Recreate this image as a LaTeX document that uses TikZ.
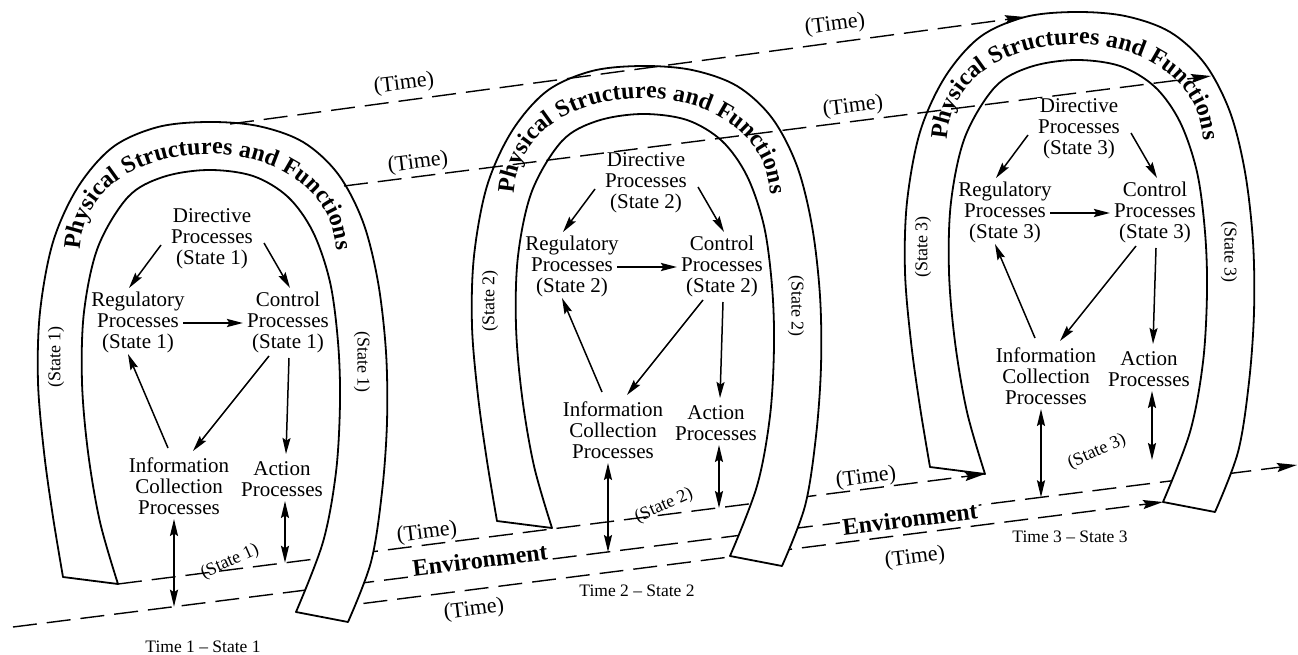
\documentclass[tikz,border=0pt]{standalone}
\usepackage{fontspec}
\setmainfont{Liberation Serif}
\usetikzlibrary{arrows.meta,calc,decorations.text}
\pgfdeclarelayer{back}
\pgfsetlayers{back,main}

\tikzset{
  archline/.style={line width=1.8pt, fill=white, line join=round},
  dashedtime/.style={line width=1.4pt, dash pattern=on 24pt off 10pt},
  timearrow/.style={dashedtime, -{Stealth[length=20pt,width=9pt,inset=3pt]}},
  proc/.style={align=center, font=\fontsize{21}{21}\selectfont, inner sep=1pt},
  parr/.style={line width=1.5pt, -{Stealth[length=16pt,width=8pt,inset=2.5pt]}},
  boldarr/.style={line width=2.6pt, -{Stealth[length=16pt,width=8pt,inset=2.5pt]}},
  darr/.style={line width=1.8pt, {Stealth[length=17pt,width=8pt,inset=2.5pt]}-{Stealth[length=17pt,width=8pt,inset=2.5pt]}},
  timelbl/.style={font=\fontsize{22}{22}\selectfont, rotate=7, inner sep=1pt},
  envlbl/.style={font=\bfseries\fontsize{24}{24}\selectfont, rotate=7, fill=white, inner sep=2pt},
  statelbl/.style={font=\fontsize{18}{18}\selectfont, inner sep=1pt},
  timecap/.style={font=\fontsize{17.5}{17.5}\selectfont},
}

% horseshoe band with its curved title; #1 name prefix, (#2,#3) apex of the outer edge
\newcommand\archbody[3]{%
  \begin{scope}[shift={(#2,#3)}]
    \draw[archline]
      plot[smooth,tension=0.55] coordinates {(-145,455) (-155,395) (-164,330) (-170,260) (-168,190) (-155,120) (-130,65) (-95,25) (-50,5) (0,0) (50,4) (95,20) (130,52) (155,100) (170,160) (178,230) (179,300) (174,370) (163,440) (140,500)}
      -- plot[smooth,tension=0.55] coordinates {(88,490) (115,420) (128,350) (132,280) (130,220) (122,160) (105,110) (80,75) (45,54) (0,48) (-45,55) (-80,75) (-110,125) (-124,190) (-126,260) (-120,330) (-108,400) (-90,462)}
      -- cycle;
    \path[decorate,decoration={text along path,text align=fit to path,
        text={|\bfseries\fontsize{24}{24}\selectfont|Physical Structures and Functions}}]
      (-128,128) .. controls (-122,0) and (122,0) .. (128,128);
    \coordinate (#1li) at (-90,462);
    \coordinate (#1ri) at (88,490);
    \coordinate (#1ta) at (22,2);
    \coordinate (#1tl) at (-50,5);
    \coordinate (#1tb) at (136,64);
  \end{scope}}

% process nodes and their arrows; #4 is the state number
\newcommand\archprocs[4]{%
  \begin{scope}[shift={(#2,#3)}]
    \node[proc,fill=white] (#1d) at (4,117) {Directive\\Processes\\(State #4)};
    \node[proc] (#1r) at (-70,200) {Regulatory\\Processes\\(State #4)};
    \node[proc] (#1c) at (80,200) {Control\\Processes\\(State #4)};
    \node[proc] (#1i) at (-29,364) {Information\\Collection\\Processes};
    \node[proc] (#1a) at (74,357) {Action\\Processes};
    \node[statelbl,rotate=90] (#1sl) at (-152,235) {(State #4)};
    \node[statelbl,rotate=-90] (#1sr) at (154,240) {(State #4)};
    \node[statelbl,rotate=24] (#1sd) at (22,440) {(State #4)};
    \node[timecap] (#1tc) at (-5,525) {Time #4 \textendash{} State #4};
  \end{scope}
  \draw[parr] ($(#1d)+(-51,6)$) -- ($(#1r)+(-9,-34)$);
  \draw[parr] ($(#1d)+(52,4)$) -- ($(#1c)+(2,-34)$);
  \draw[boldarr] ($(#1r)+(45,1)$) -- ($(#1c)+(-45,1)$);
  \draw[parr] ($(#1i)+(-11,-38)$) -- ($(#1r)+(-10,32)$);
  \draw[parr] ($(#1c)+(-19,34)$) -- ($(#1i)+(14,-35)$);
  \draw[parr] ($(#1c)+(1,36)$) -- ($(#1a)+(4,-25)$);
}

\begin{document}
\begin{tikzpicture}[x=1pt,y=-1pt]
\useasboundingbox (0,0) rectangle (1298,655);

\archbody{a1}{208}{122}
\archbody{a2}{642}{66}
\archbody{a3}{1075}{12}

% time lines running over the tops of the arches
\draw[timearrow] (a1ta) -- (a3tl);
\draw[timearrow] (a1tb) -- (a3tb);

% environment lines, passing behind the legs
\coordinate (mstart) at (13,627);
\coordinate (mend) at (1297,465);
\begin{pgfonlayer}{back}
  \draw[timearrow] (mstart) -- (mend);
  \draw[timearrow] (a1li) -- (a3li);
  \draw[timearrow] (a1ri) -- (a3ri);
\end{pgfonlayer}

\archprocs{a1}{208}{122}{1}
\archprocs{a2}{642}{66}{2}
\archprocs{a3}{1075}{12}{3}

% links between the processes and the environment
\coordinate (a1ie) at (174,606.7);
\coordinate (a1ae) at (285,562.8);
\coordinate (a2ie) at (608,552);
\coordinate (a2ae) at (719,508);
\coordinate (a3ie) at (1041,497.3);
\coordinate (a3ae) at (1152,460);
\draw[darr] ($(a1i)+(-5,33)$) -- (a1ie);
\draw[darr] ($(a1a)+(3,22)$) -- (a1ae);
\draw[darr] ($(a2i)+(-5,33)$) -- (a2ie);
\draw[darr] ($(a2a)+(3,22)$) -- (a2ae);
\draw[darr] ($(a3i)+(-5,33)$) -- (a3ie);
\draw[darr] ($(a3a)+(3,22)$) -- (a3ae);

% labels on the time lines
\node[timelbl] (t1) at (404,84) {(Time)};
\node[timelbl] (t2) at (418,163) {(Time)};
\node[timelbl] (t3) at (835,25) {(Time)};
\node[timelbl] (t4) at (853,107) {(Time)};
\node[timelbl] (t5) at (427,533) {(Time)};
\node[timelbl] (t6) at (474,610) {(Time)};
\node[timelbl] (t7) at (866,478) {(Time)};
\node[timelbl] (t8) at (915,558) {(Time)};
\node[envlbl] (env1) at (480,560) {Environment};
\node[envlbl] (env2) at (910,519) {Environment};
\end{tikzpicture}
\end{document}
